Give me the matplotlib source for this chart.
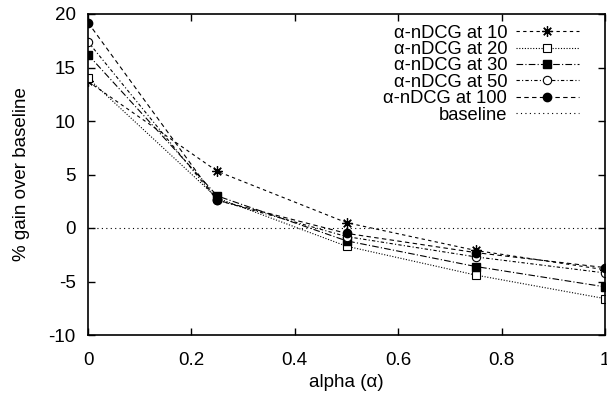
import matplotlib
matplotlib.use("Agg")
import matplotlib.pyplot as plt

plt.rcParams['font.family'] = ['Liberation Sans', 'DejaVu Sans']
plt.rcParams['axes.unicode_minus'] = False

alpha = [0.0, 0.25, 0.5, 0.75, 1.0]
ndcg10 = [13.7, 5.3, 0.5, -2.1, -3.9]
ndcg20 = [14.0, 2.8, -1.7, -4.4, -6.6]
ndcg30 = [16.2, 3.0, -1.2, -3.6, -5.5]
ndcg50 = [17.4, 2.6, -0.8, -2.7, -4.2]
ndcg100 = [19.2, 2.6, -0.5, -2.3, -3.7]
baseline = 0.0

labels = ["α-nDCG at 10", "α-nDCG at 20", "α-nDCG at 30", "α-nDCG at 50", "α-nDCG at 100", "baseline"]
xticks = [0, 0.2, 0.4, 0.6, 0.8, 1]
xticklabels = ["0", "0.2", "0.4", "0.6", "0.8", "1"]
yticks = [-10, -5, 0, 5, 10, 15, 20]

fs = 13.5
fig = plt.figure(figsize=(6.07, 3.95), dpi=100)
ax = fig.add_axes([88/607, 60/395, 517/607, 321/395])

lw = 0.8
ms = 6
ax.plot(alpha, ndcg10, color='black', lw=lw, linestyle=(0, (3, 3)), marker=(8, 2, 0), ms=7.5, markeredgewidth=0.9, label=labels[0])
ax.plot(alpha, ndcg20, color='black', lw=lw, linestyle=(0, (1, 1.5)), marker='s', ms=ms, mfc='white', markeredgewidth=0.8, label=labels[1])
ax.plot(alpha, ndcg30, color='black', lw=lw, linestyle=(0, (6, 2, 1, 2)), marker='s', ms=ms, mfc='black', label=labels[2])
ax.plot(alpha, ndcg50, color='black', lw=lw, linestyle=(0, (3, 2, 1, 2)), marker='o', ms=ms, mfc='white', markeredgewidth=0.8, label=labels[3])
ax.plot(alpha, ndcg100, color='black', lw=lw, linestyle=(0, (4, 3)), marker='o', ms=ms, mfc='black', label=labels[4])
ax.axhline(baseline, color='black', lw=lw, linestyle=(0, (1, 3)), label=labels[5])

ax.set_xlim(0, 1)
ax.set_ylim(-10, 20)
ax.set_xticks(xticks)
ax.set_xticklabels(xticklabels)
ax.set_yticks(yticks)
ax.tick_params(direction='in', top=True, right=True, length=5, width=1, labelsize=fs)
ax.tick_params(axis='x', pad=12)
ax.tick_params(axis='y', pad=9)
for s in ax.spines.values():
    s.set_linewidth(1.2)

ax.set_xlabel("alpha (α)", fontsize=fs, labelpad=4)
ax.set_ylabel("% gain over baseline", fontsize=fs, labelpad=13)

leg = ax.legend(loc='upper right', bbox_to_anchor=(0.963, 0.99), frameon=False, markerfirst=False, fontsize=13.2,
                handlelength=3.4, borderaxespad=0.0, labelspacing=-0.03, handletextpad=0.5)
for t in leg.get_texts():
    t.set_ha('right')
leg._legend_box.align = "right"

fig.savefig("out.png", dpi=100)
